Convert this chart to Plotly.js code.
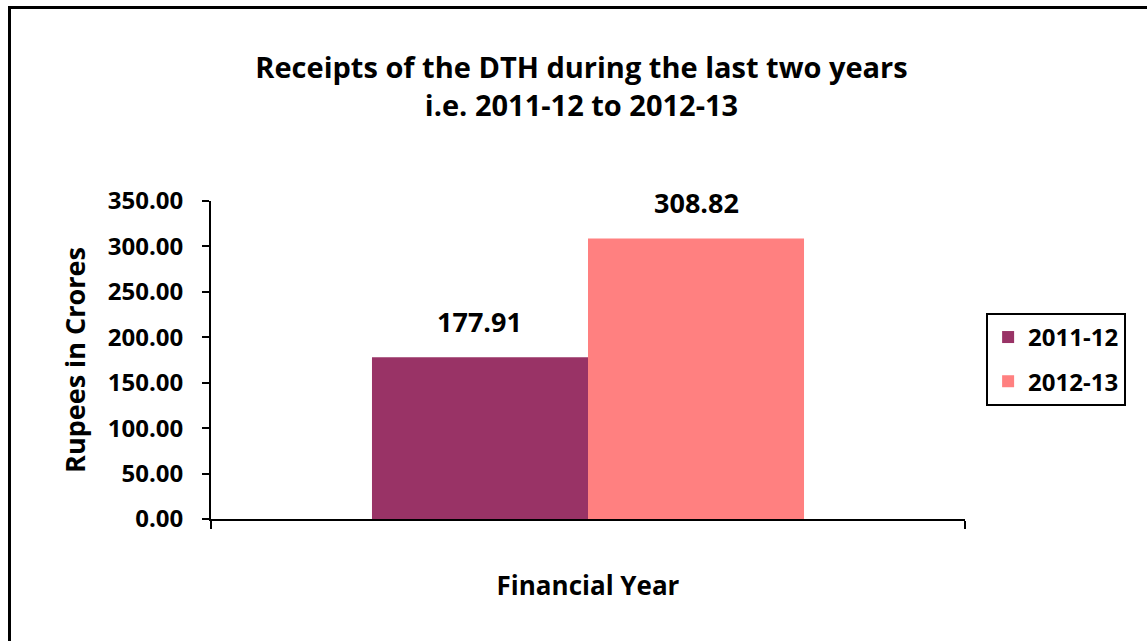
<!DOCTYPE html>
<html>
<head>
<meta charset="utf-8">
<script src="https://cdn.plot.ly/plotly-3.0.1.min.js"></script>
<style>
html,body{margin:0;padding:0;background:#fff;overflow:hidden;}
#chart{width:1147px;height:641px;position:absolute;left:0;top:0;}
#frame{position:absolute;left:8px;top:6px;width:1200px;height:700px;border:3px solid #000;pointer-events:none;}
</style>
</head>
<body>
<div id="chart"></div>
<div id="frame"></div>
<script>
const seriesNames = ["2011-12", "2012-13"];
const seriesValues = [177.91, 308.82];
const seriesColors = ["#993366", "#FF8080"];
const yTicks = [0, 50, 100, 150, 200, 250, 300, 350];

const FONT = "'Open Sans', sans-serif";
const BARGAP = 0.427;

const traces = seriesNames.map((name, i) => ({
  type: "bar",
  name: name,
  legendgroup: name,
  x: [0],
  y: [seriesValues[i]],
  marker: {color: seriesColors[i]},
  hoverinfo: "skip"
}));

const barW = (1 - BARGAP) / seriesNames.length;
const annotations = seriesNames.map((name, i) => ({
  xref: "x", yref: "y",
  x: (i - (seriesNames.length - 1) / 2) * barW,
  y: seriesValues[i],
  text: seriesValues[i].toFixed(2),
  showarrow: false,
  xanchor: "center", yanchor: "bottom",
  yshift: 15,
  font: {family: FONT, size: 27, color: "#000", weight: 700}
}));

const layout = {
  width: 1147,
  height: 641,
  paper_bgcolor: "#fff",
  plot_bgcolor: "#fff",
  margin: {l: 211, r: 182, t: 201, b: 122, pad: 0},
  barmode: "group",
  bargap: BARGAP,
  bargroupgap: 0,
  font: {family: FONT, color: "#000", weight: 700},
  annotations: annotations,
  title: {
    text: "Receipts of the DTH during the last two years<br>i.e. 2011-12 to 2012-13",
    font: {family: FONT, size: 29, color: "#000", weight: 700},
    x: 0.507, xanchor: "center",
    y: 0.878, yanchor: "middle"
  },
  xaxis: {
    range: [-0.5, 0.5],
    tickvals: [-0.5, 0.5],
    ticktext: ["", ""],
    ticks: "outside",
    ticklen: 8,
    tickwidth: 2,
    tickcolor: "#000",
    showline: true,
    linecolor: "#000",
    linewidth: 2,
    showgrid: false,
    zeroline: false,
    fixedrange: true,
    title: {text: "Financial Year", font: {family: FONT, size: 26, color: "#000", weight: 700}, standoff: 46}
  },
  yaxis: {
    range: [0, 350],
    tickvals: yTicks,
    tickformat: ".2f",
    ticks: "outside",
    ticklen: 7,
    tickwidth: 2,
    tickcolor: "#000",
    showline: true,
    linecolor: "#000",
    linewidth: 2,
    showgrid: false,
    zeroline: false,
    fixedrange: true,
    ticklabelstandoff: 14,
    tickfont: {family: FONT, size: 24, color: "#000", weight: 700},
    title: {text: "Rupees in Crores", font: {family: FONT, size: 27, color: "#000", weight: 700}, standoff: 14}
  },
  showlegend: true,
  legend: {
    x: 1.028, xanchor: "left",
    y: 0.648, yanchor: "top",
    bordercolor: "#000",
    borderwidth: 2,
    bgcolor: "#fff",
    font: {family: FONT, size: 24, color: "#000", weight: 700},
    tracegroupgap: 10,
    itemwidth: 30
  }
};

Plotly.newPlot("chart", traces, layout, {displayModeBar: false, staticPlot: true});
</script>
</body>
</html>
